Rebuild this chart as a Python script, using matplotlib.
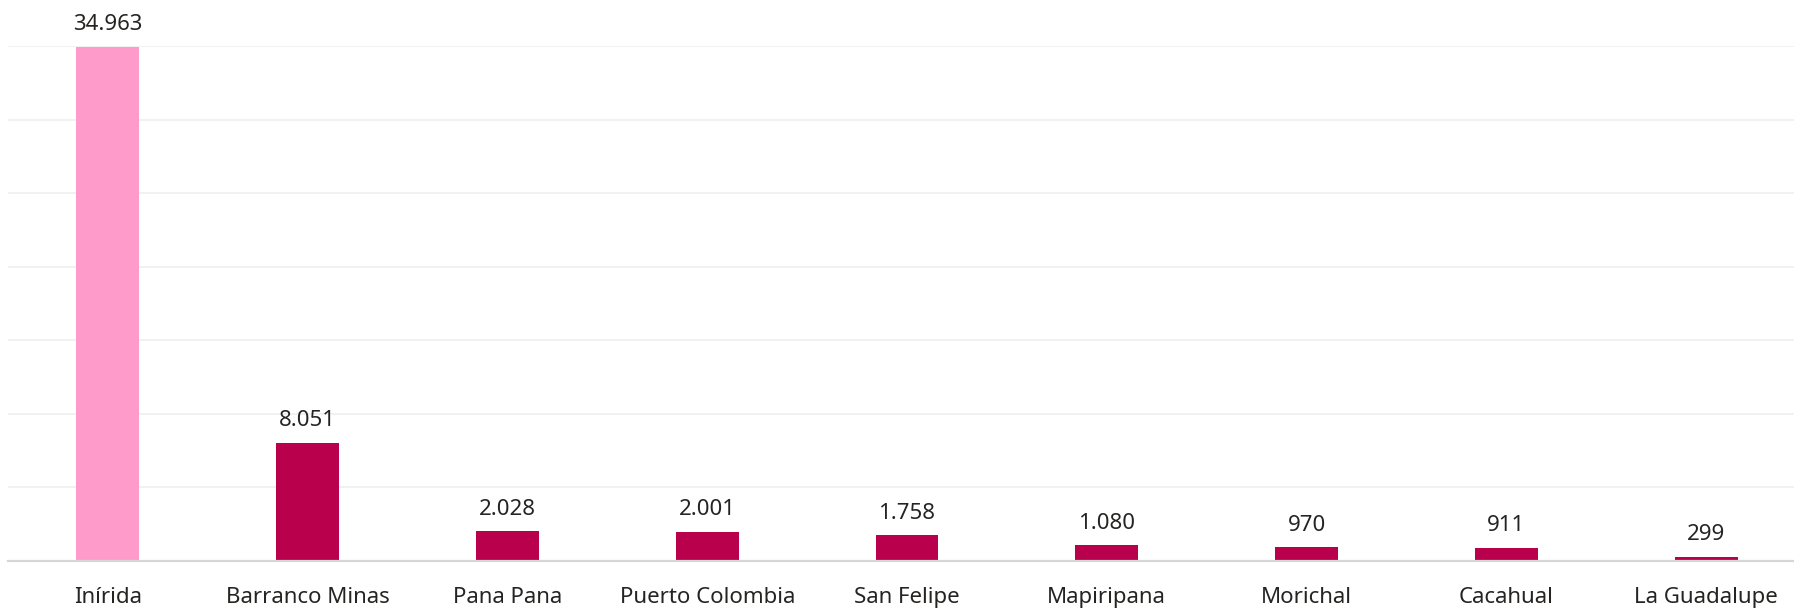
import matplotlib.pyplot as plt
from matplotlib.ticker import MultipleLocator

# datos por municipio
municipios = ['Inírida', 'Barranco Minas', 'Pana Pana', 'Puerto Colombia', 'San Felipe',
              'Mapiripana', 'Morichal', 'Cacahual', 'La Guadalupe']
valores = [34963, 8051, 2028, 2001, 1758, 1080, 970, 911, 299]
colores = ['#FF9BCB'] + ['#B8004C'] * (len(valores) - 1)

plt.rcParams['font.family'] = ['Noto Sans', 'DejaVu Sans']

fig = plt.figure(figsize=(17.94, 6.11), dpi=100)
ax = fig.add_axes([8 / 1794, 50 / 611, 1 - 8 / 1794, (561 - 46) / 611])

x = range(len(municipios))
ax.bar(x, valores, width=0.315, color=colores, zorder=3)

for i, v in enumerate(valores):
    etiqueta = f'{v:,}'.replace(',', '.')
    ax.annotate(etiqueta, (i, v), xytext=(0, 8), textcoords='offset points',
                ha='center', va='bottom', fontsize=16, color='#252423')

ax.set_xlim(-0.5, 8.44)
ax.set_ylim(0, 35000)
ax.yaxis.set_major_locator(MultipleLocator(5000))
ax.grid(axis='y', color='#F0F0F0', linewidth=1.3, zorder=0)
ax.set_yticklabels([])
ax.tick_params(axis='y', length=0)
ax.tick_params(axis='x', length=0, pad=19, labelsize=16, labelcolor='#252423')
ax.set_xticks(list(x))
ax.set_xticklabels(municipios)

for s in ['top', 'right', 'left']:
    ax.spines[s].set_visible(False)
ax.spines['bottom'].set_color('#D6D6D6')
ax.spines['bottom'].set_linewidth(1.6)
ax.spines['bottom'].set_zorder(4)

fig.savefig('out.png', dpi=100)
